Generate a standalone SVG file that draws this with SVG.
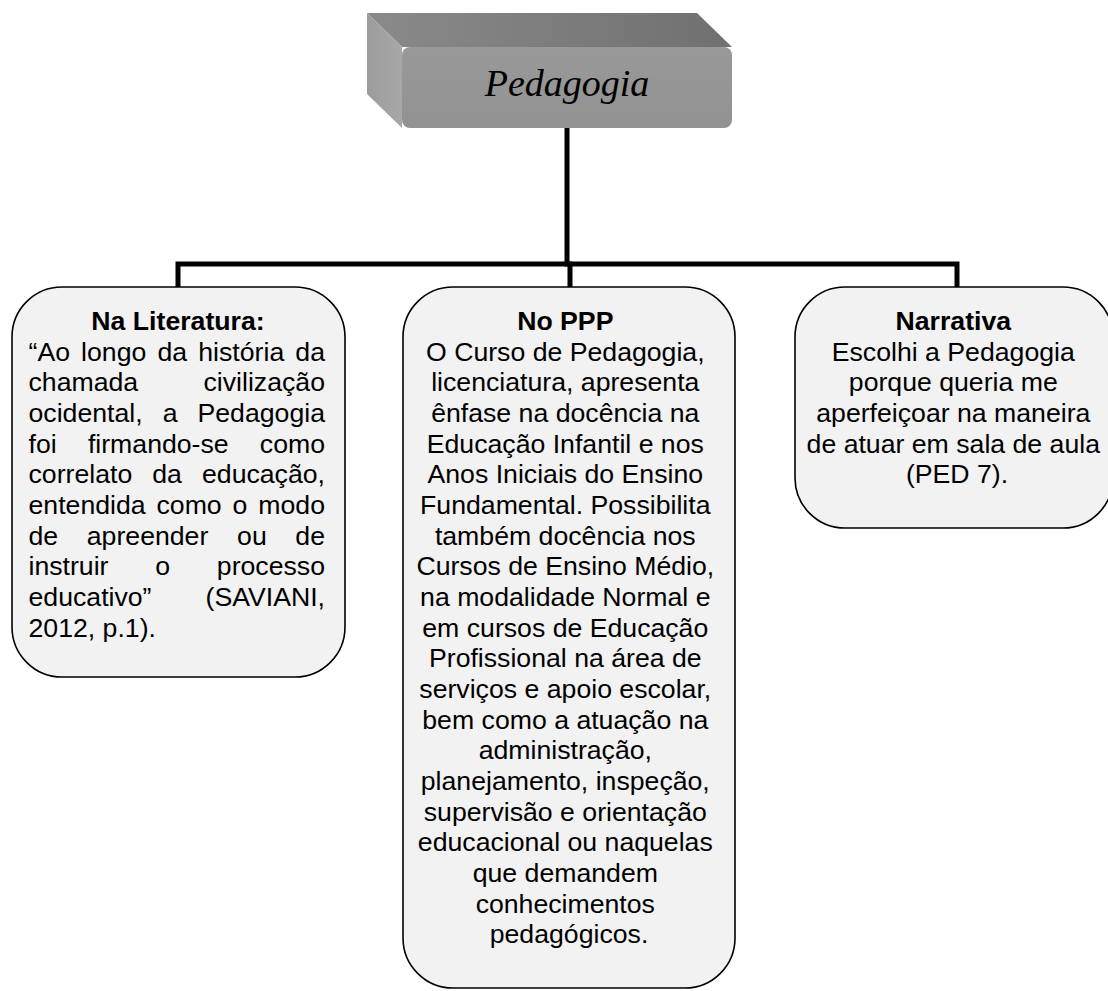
<svg xmlns="http://www.w3.org/2000/svg" width="1108" height="991" viewBox="0 0 1108 991">
  <defs>
    <linearGradient id="gTop" x1="0" y1="0" x2="1" y2="0">
      <stop offset="0" stop-color="#8a8a8a"/>
      <stop offset="1" stop-color="#707070"/>
    </linearGradient>
    <linearGradient id="gLeft" x1="0" y1="0" x2="1" y2="0">
      <stop offset="0" stop-color="#9c9c9c"/>
      <stop offset="1" stop-color="#a8a8a8"/>
    </linearGradient>
    <linearGradient id="gFront" x1="0" y1="0" x2="0" y2="1">
      <stop offset="0" stop-color="#999999"/>
      <stop offset="1" stop-color="#929292"/>
    </linearGradient>
  </defs>
  <style>
    .box { fill: #f2f2f2; stroke: #000; stroke-width: 1.6; }
    .conn { fill: none; stroke: #000; stroke-width: 5; stroke-linecap: square; }
    .t { font-family: "Liberation Sans", Arial, sans-serif; font-size: 26.67px; fill: #000; }
    .c { text-anchor: middle; }
    .e { text-anchor: end; }
    .b { font-weight: bold; }
    .title { font-family: "Liberation Serif", "DejaVu Serif", serif; font-style: italic; font-size: 38px; fill: #000; text-anchor: middle; }
  </style>

  <g id="connectors">
    <line class="conn" x1="567" y1="128" x2="567" y2="264"/>
    <polyline class="conn" points="178,286 178,264 957,264 957,286"/>
    <line class="conn" x1="570" y1="264" x2="570" y2="286"/>
  </g>

  <g id="pedagogia">
    <polygon points="367,13 697,13 732,47 402,47" fill="url(#gTop)"/>
    <polygon points="367,13 402,47 402,128 367,94" fill="url(#gLeft)"/>
    <rect x="402" y="47" width="330" height="81" rx="8" fill="url(#gFront)"/>
    <text class="title" x="567" y="96">Pedagogia</text>
  </g>

  <g id="literatura">
    <rect class="box" x="12" y="287" width="333" height="390" rx="50"/>
    <text class="t b c" x="178" y="330">Na Literatura:</text>
    <text class="t" y="360.7"><tspan x="28.5">“Ao</tspan><tspan x="81.1">longo</tspan><tspan x="157.5">da</tspan><tspan x="198.3">história</tspan></text>
    <text class="t e" x="325" y="360.7">da</text>
    <text class="t" x="28.5" y="391.3">chamada</text>
    <text class="t e" x="325" y="391.3">civilização</text>
    <text class="t" y="422"><tspan x="28.5">ocidental,</tspan><tspan x="162.7">a</tspan></text>
    <text class="t e" x="325" y="422">Pedagogia</text>
    <text class="t" y="452.7"><tspan x="28.5">foi</tspan><tspan x="87.9">firmando-se</tspan></text>
    <text class="t e" x="325" y="452.7">como</text>
    <text class="t" y="483.4"><tspan x="28.5">correlato</tspan><tspan x="152.3">da</tspan></text>
    <text class="t e" x="325" y="483.4">educação,</text>
    <text class="t" y="514"><tspan x="28.5">entendida</tspan><tspan x="156.5">como</tspan><tspan x="232.6">o</tspan></text>
    <text class="t e" x="325" y="514">modo</text>
    <text class="t" y="544.7"><tspan x="28.5">de</tspan><tspan x="86.8">apreender</tspan><tspan x="237.1">ou</tspan></text>
    <text class="t e" x="325" y="544.7">de</text>
    <text class="t" y="575.4"><tspan x="28.5">instruir</tspan><tspan x="155.3">o</tspan></text>
    <text class="t e" x="325" y="575.4">processo</text>
    <text class="t" x="28.5" y="606">educativo”</text>
    <text class="t e" x="325" y="606">(SAVIANI,</text>
    <text class="t" x="28.5" y="636.7">2012, p.1).</text>
  </g>

  <g id="ppp">
    <rect class="box" x="403" y="287" width="332" height="701" rx="50"/>
    <text class="t c" x="569">
      <tspan class="b" x="569" y="330">No PPP</tspan>
      <tspan x="569" y="360.7">O Curso de Pedagogia,</tspan>
      <tspan x="569" y="391.3">licenciatura, apresenta</tspan>
      <tspan x="569" y="422">ênfase na docência na</tspan>
      <tspan x="569" y="452.7">Educação Infantil e nos</tspan>
      <tspan x="569" y="483.4">Anos Iniciais do Ensino</tspan>
      <tspan x="569" y="514">Fundamental. Possibilita</tspan>
      <tspan x="569" y="544.7">também docência nos</tspan>
      <tspan x="569" y="575.4">Cursos de Ensino Médio,</tspan>
      <tspan x="569" y="606">na modalidade Normal e</tspan>
      <tspan x="569" y="636.7">em cursos de Educação</tspan>
      <tspan x="569" y="667.4">Profissional na área de</tspan>
      <tspan x="569" y="698">serviços e apoio escolar,</tspan>
      <tspan x="569" y="728.7">bem como a atuação na</tspan>
      <tspan x="569" y="759.4">administração,</tspan>
      <tspan x="569" y="790">planejamento, inspeção,</tspan>
      <tspan x="569" y="820.7">supervisão e orientação</tspan>
      <tspan x="569" y="851.4">educacional ou naquelas</tspan>
      <tspan x="569" y="882">que demandem</tspan>
      <tspan x="569" y="912.7">conhecimentos</tspan>
      <tspan x="569" y="943.4">pedagógicos.</tspan>
    </text>
  </g>

  <g id="narrativa">
    <rect class="box" x="795" y="287" width="318" height="241" rx="50"/>
    <text class="t c" x="957">
      <tspan class="b" x="957" y="330">Narrativa</tspan>
      <tspan x="957" y="360.7">Escolhi a Pedagogia</tspan>
      <tspan x="957" y="391.3">porque queria me</tspan>
      <tspan x="957" y="422">aperfeiçoar na maneira</tspan>
      <tspan x="957" y="452.7">de atuar em sala de aula</tspan>
      <tspan x="957" y="483.4">(PED 7).</tspan>
    </text>
  </g>
</svg>
